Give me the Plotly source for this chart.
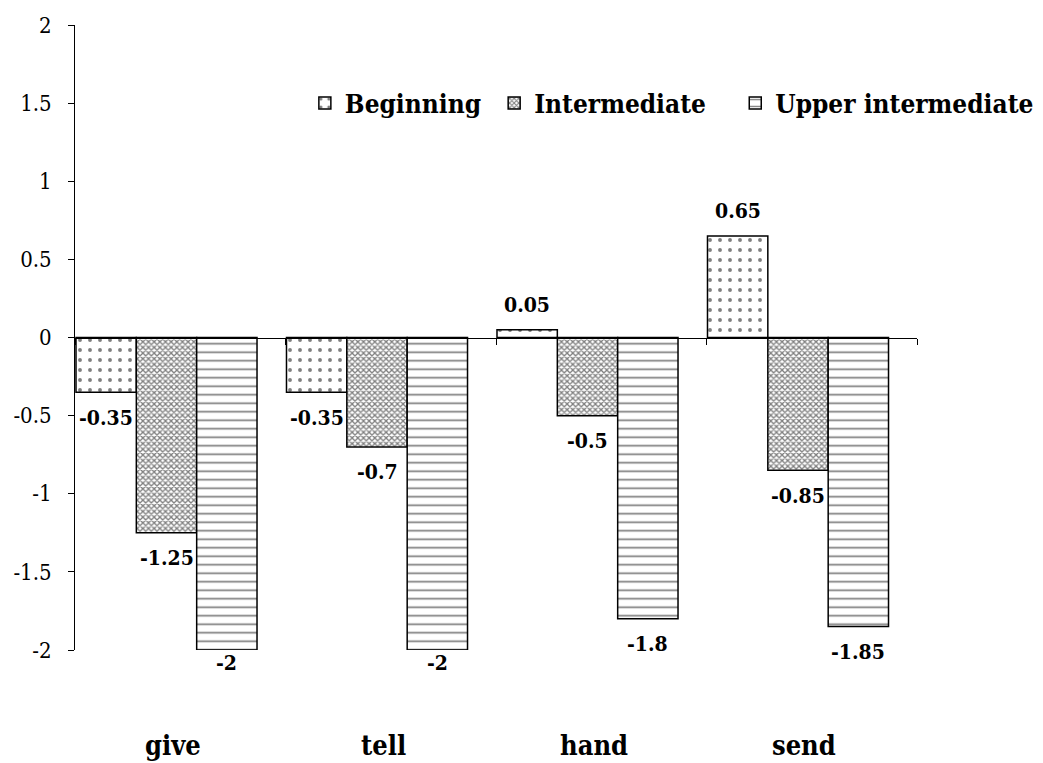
import plotly.graph_objects as go

categories = ["give", "tell", "hand", "send"]
beginning = [-0.35, -0.35, 0.05, 0.65]
intermediate = [-1.25, -0.7, -0.5, -0.85]
upper_intermediate = [-2, -2, -1.8, -1.85]
series_names = ["Beginning", "Intermediate", "Upper intermediate"]
y_ticks = [2, 1.5, 1, 0.5, 0, -0.5, -1, -1.5, -2]
y_tick_labels = ["2", "1.5", "1", "0.5", "0", "-0.5", "-1", "-1.5", "-2"]

FONT = "DejaVu Serif Condensed, DejaVu Serif, serif"
xpos = list(range(len(categories)))
off = 0.4347
BARGAP = 0.14
legend_pad = ["\u00a0", "\u00a0\u00a0\u00a0", ""]

fig = go.Figure()
patterns = [
    dict(shape=".", size=10, solidity=0.12, fgcolor="black", bgcolor="white"),
    dict(shape="x", size=4, solidity=0.55, fgcolor="black", bgcolor="white"),
    dict(shape="-", size=8.5, solidity=0.2, fgcolor="black", bgcolor="white"),
]
all_series = [beginning, intermediate, upper_intermediate]
for name, pad, vals, pat in zip(series_names, legend_pad, all_series, patterns):
    fig.add_trace(go.Bar(
        x=xpos, y=vals, name=name + pad,
        marker=dict(color="white", pattern=pat, line=dict(color="black", width=1.5)),
        cliponaxis=False,
    ))

ngroups = len(all_series)
bw = (1 - BARGAP) / ngroups
for gi, vals in enumerate(all_series):
    for i, v in enumerate(vals):
        xc = i - (1 - BARGAP) / 2 + bw * (gi + 0.5)
        if v >= 0:
            shift = 25
        else:
            shift = -12 if v <= -2 else -25
        fig.add_annotation(x=xc, y=v, text="<b>%g</b>" % v, showarrow=False,
                           yshift=shift, font=dict(family=FONT, size=21, color="black"))

for i, c in enumerate(categories):
    fig.add_annotation(x=i + 0.03, y=-0.152, yref="paper", yanchor="middle",
                       text="<b>%s</b>" % c, showarrow=False,
                       font=dict(family=FONT, size=27, color="black"))

fig.update_layout(
    width=1043, height=763,
    margin=dict(l=67, r=134, t=17, b=121, autoexpand=False),
    paper_bgcolor="white", plot_bgcolor="white",
    barmode="group", bargap=BARGAP, bargroupgap=0,
    font=dict(family=FONT, size=22, color="black"),
    legend=dict(orientation="h", x=0.273, xanchor="left", y=0.875, yanchor="middle",
                font=dict(family=FONT, size=26, color="black", weight="bold"),
                bgcolor="rgba(0,0,0,0)"),
    xaxis=dict(range=[-off, len(categories) - off], showgrid=False, zeroline=False,
               anchor="free", position=0.5, showline=True, linecolor="black", linewidth=1,
               ticks="outside", ticklen=6, tickcolor="black", automargin=False,
               tickvals=[k - off for k in range(len(categories) + 1)],
               showticklabels=False),
    yaxis=dict(range=[-2, 2], showgrid=False, zeroline=False, showline=True,
               linecolor="black", linewidth=1, ticks="outside", ticklen=6, tickcolor="black",
               tickvals=y_ticks, ticktext=y_tick_labels, ticklabelstandoff=12, automargin=False,
               tickfont=dict(family=FONT, size=22, color="black")),
)

fig.write_html("out.html")
